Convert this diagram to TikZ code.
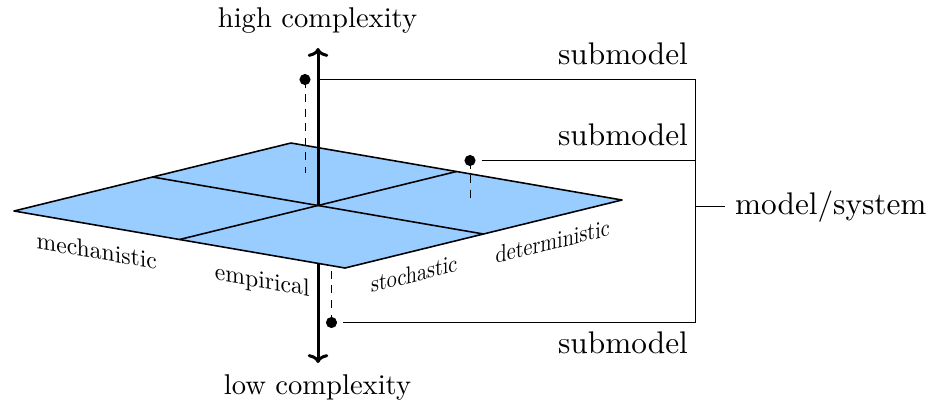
\documentclass[tikz,border=0pt]{standalone}
\usetikzlibrary{arrows.meta}
\definecolor{planeblue}{RGB}{153,204,255}
\begin{document}
\begin{tikzpicture}[x=0.35pt, y=-0.35pt,
  planeedge/.style={line width=0.55pt, line join=round},
  thinline/.style={line width=0.35pt},
  dashline/.style={line width=0.35pt, dash pattern=on 2.8pt off 2.3pt},
  axisline/.style={line width=1.05pt, -{Computer Modern Rightarrow[length=3.1pt,width=7.2pt]}},
  dotnode/.style={circle, fill, inner sep=0pt, minimum size=3.9pt, outer sep=2.1pt},
  biglabel/.style={font=\fontsize{10.95}{13.6}\selectfont},
  sublabel/.style={anchor=base, biglabel}]
\useasboundingbox (0,0) rectangle (936,401);
% plane corners
\coordinate (C) at (318,205.5);
\coordinate (L) at (14,211);
\coordinate (T) at (291,143);
\coordinate (R) at (622,200);
\coordinate (B) at (345,268);
\coordinate (LT) at (152.5,177);
\coordinate (BR) at (483.5,234);
\coordinate (LB) at (179.5,239.5);
\coordinate (TR) at (456.5,171.5);
% axis ends
\coordinate (Top) at (318,48);
\coordinate (Bot) at (318,363);
% dot positions and feet
\coordinate (p1) at (305,79.5);
\coordinate (f1) at (305,173);
\coordinate (p2) at (470,160.5);
\coordinate (f2) at (470,203);
\coordinate (p3) at (331.5,322.5);
\coordinate (f3) at (331.5,240);
% bracket
\coordinate (b1) at (695.5,79.5);
\coordinate (b2) at (695.5,160.5);
\coordinate (b3) at (695.5,322.5);
\coordinate (bm) at (695.5,206.5);
\coordinate (bt) at (725,206.5);

% hidden parts below the plane
\draw[axisline] (C) -- (Bot);
\draw[dashline] (p3) -- (f3);

% plane
\filldraw[fill=planeblue, planeedge] (L) -- (B) -- (R) -- (T) -- cycle;
\draw[planeedge] (LT) -- (BR);
\draw[planeedge] (LB) -- (TR);

% upper axis
\draw[axisline] (C) -- (Top);

% dashed drops
\draw[dashline] (p1) -- (f1);
\draw[dashline] (p2) -- (f2);

% dots
\node[dotnode] (d1) at (p1) {};
\node[dotnode] (d2) at (p2) {};
\node[dotnode] (d3) at (p3) {};

% connectors to the bracket
\draw[thinline] (d1) -- (b1);
\draw[thinline] (d2) -- (b2);
\draw[thinline] (d3) -- (b3);
\draw[thinline] (b1) -- (b3);
\draw[thinline] (bm) -- (bt) node[right, biglabel] (ms) {model/system};

% labels
\node[anchor=base] (hc) at (317.5,27) {high complexity};
\node[anchor=base] (lc) at (317.5,394) {low complexity};
\node[sublabel] (s1) at (623,64) {submodel};
\node[sublabel] (s2) at (623,145.5) {submodel};
\node[sublabel] (s3) at (623,353.3) {submodel};

% labels on the front edges
\begin{scope}[shift={(96.75,259)}, cm={0.828,-0.1425,0,0.86,(0,0)}]
  \node[transform shape, anchor=base, inner sep=0pt] (mech) at (0,0) {mechanistic};
\end{scope}
\begin{scope}[shift={(262.25,288)}, cm={0.828,-0.1425,0,0.86,(0,0)}]
  \node[transform shape, anchor=base, inner sep=0pt] (emp) at (0,0) {empirical};
\end{scope}
\begin{scope}[shift={(414.25,282)}, cm={0.704,0.173,0,0.86,(0,0)}]
  \node[transform shape, anchor=base, inner sep=0pt] (sto) at (0,0) {stochastic};
\end{scope}
\begin{scope}[shift={(552.75,249.5)}, cm={0.704,0.173,0,0.86,(0,0)}]
  \node[transform shape, anchor=base, inner sep=0pt] (det) at (0,0) {deterministic};
\end{scope}
\end{tikzpicture}
\end{document}
